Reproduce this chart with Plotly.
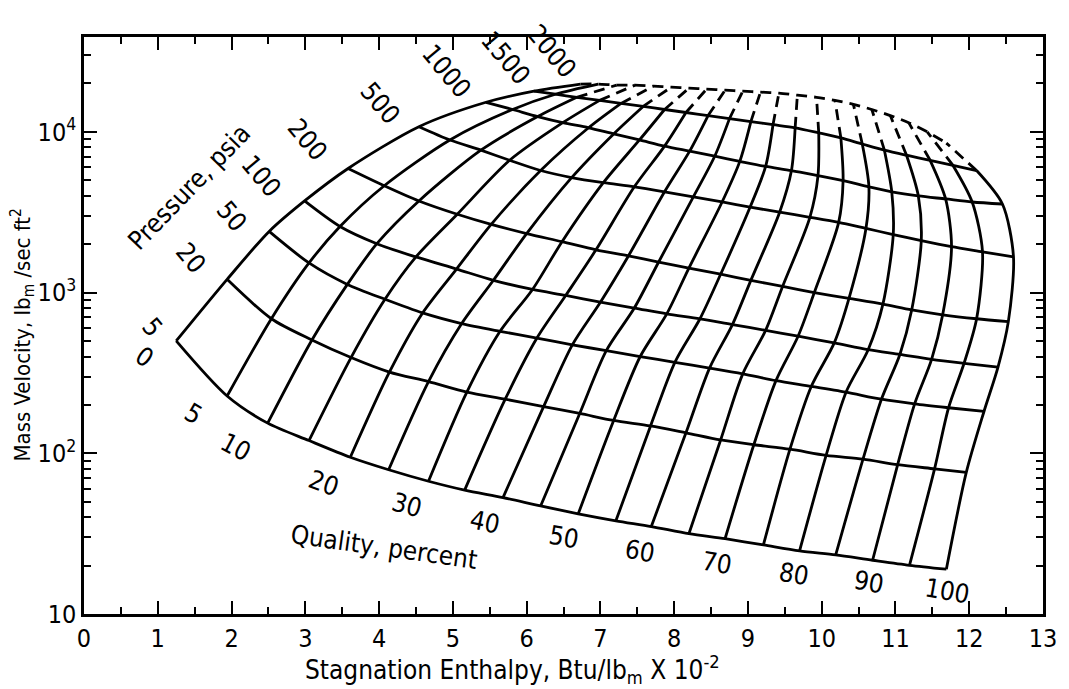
import plotly.graph_objects as go

# ---------------- data ----------------
pressures = [5, 20, 50, 100, 200, 500, 1000, 1500, 2000]          # psia
qualities = [0, 5, 10, 15, 20, 25, 30, 35, 40, 45, 50,
             55, 60, 65, 70, 75, 80, 85, 90, 95, 100]              # percent

# stagnation enthalpy (Btu/lbm x 1e-2) at each quality, per pressure line
h_p5 = [1.25, 1.94, 2.49, 3.05, 3.61, 4.13, 4.67, 5.16, 5.68, 6.19, 6.70,
        7.21, 7.69, 8.20, 8.69, 9.21, 9.70, 10.19, 10.69, 11.19, 11.69]
h_p20 = [1.94, 2.54, 3.09, 3.62, 4.14, 4.67, 5.19, 5.71, 6.23, 6.72, 7.18,
         7.68, 8.16, 8.63, 9.08, 9.57, 10.06, 10.56, 11.03, 11.53, 11.96]
h_p50 = [2.51, 3.05, 3.57, 4.08, 4.59, 5.12, 5.64, 6.14, 6.62, 7.08, 7.54,
         8.01, 8.48, 8.93, 9.38, 9.86, 10.33, 10.81, 11.26, 11.72, 12.20]
h_p100 = [2.99, 3.47, 3.97, 4.50, 5.05, 5.55, 6.08, 6.53, 7.00, 7.46, 7.90,
          8.35, 8.79, 9.24, 9.68, 10.17, 10.63, 11.06, 11.49, 11.93, 12.39]
h_p200 = [3.58, 4.07, 4.54, 5.06, 5.52, 6.00, 6.48, 6.94, 7.38, 7.79, 8.20,
          8.63, 9.04, 9.47, 9.90, 10.37, 10.83, 11.22, 11.64, 12.10, 12.53]
h_p500 = [4.54, 4.96, 5.38, 5.77, 6.19, 6.61, 7.04, 7.46, 7.87, 8.26, 8.65,
          9.03, 9.43, 9.84, 10.23, 10.60, 10.97, 11.35, 11.76, 12.18, 12.60]
h_p1000 = [5.45, 5.81, 6.15, 6.49, 6.84, 7.18, 7.53, 7.87, 8.21, 8.55, 8.89,
           9.24, 9.59, 9.95, 10.29, 10.64, 10.95, 11.31, 11.68, 12.04, 12.45]
h_p1500 = [6.10, 6.39, 6.68, 6.99, 7.28, 7.58, 7.87, 8.16, 8.46, 8.75, 9.04,
           9.34, 9.64, 9.96, 10.26, 10.55, 10.85, 11.15, 11.47, 11.78, 12.10]
h_p2000 = [6.73, 6.97, 7.22, 7.47, 7.72, 7.96, 8.20, 8.44, 8.69, 8.93, 9.17,
           9.42, 9.67, 9.93, 10.18, 10.43, 10.68, 10.93, 11.18, 11.43, 11.69]

# mass velocity (lbm/sec ft^2) at each quality, per pressure line
G_p5 = [500, 227, 154, 120, 94.5, 79, 67, 59, 53, 47, 42,
        38, 35, 31.6, 29.4, 26.9, 24.7, 23.3, 21.6, 20.1, 19.0]
G_p20 = [1208, 687, 507, 394, 320, 279, 240, 217, 195, 177, 160,
         148, 134, 121, 113, 106, 97, 92, 85, 80, 76]
G_p50 = [2400, 1528, 1124, 908, 747, 641, 574, 521, 473, 435, 400,
         368, 339, 312, 283, 261, 240, 217, 203, 192, 182]
G_p100 = [3715, 2576, 2013, 1666, 1400, 1192, 1045, 959, 871, 801, 737,
          687, 632, 582, 535, 486, 441, 412, 384, 363, 344]
G_p200 = [5916, 4620, 3715, 3071, 2655, 2328, 2072, 1844, 1690, 1549, 1419,
          1300, 1191, 1091, 1000, 920, 847, 779, 727, 687, 659]
G_p500 = [10760, 8900, 7690, 6650, 5745, 5190, 4826, 4550, 4236, 3938, 3660,
          3403, 3162, 2940, 2733, 2506, 2296, 2104, 1928, 1792, 1666]
G_p1000 = [15270, 13770, 12440, 11400, 10600, 9710, 8900, 8150, 7580, 7050, 6550,
           6090, 5745, 5340, 4966, 4550, 4236, 3993, 3822, 3660, 3556]
G_p1500 = [17910, 17140, 16400, 15700, 15030, 14390, 13770, 13190, 12620, 12080, 11570,
           11070, 10600, 9860, 9170, 8400, 7690, 7150, 6650, 6180, 5745]
G_p2000 = [19820, 19820, 19530, 19530, 19260, 18970, 18700, 18450, 18160, 17910, 17660,
           17420, 16900, 16400, 15700, 14830, 13770, 12620, 11400, 10000, 8510]

x_ticks = [0, 1, 2, 3, 4, 5, 6, 7, 8, 9, 10, 11, 12, 13]
y_ticks = [10, 100, 1000, 10000]
y_tick_text = ["10", "10<sup>2</sup>", "10<sup>3</sup>", "10<sup>4</sup>"]

H = [h_p5, h_p20, h_p50, h_p100, h_p200, h_p500, h_p1000, h_p1500, h_p2000]
G = [G_p5, G_p20, G_p50, G_p100, G_p200, G_p500, G_p1000, G_p1500, G_p2000]

# ---------------- figure ----------------
FONT = "Liberation Sans Narrow, DejaVu Sans Condensed, DejaVu Sans, sans-serif"
LW = 2.8
solid = dict(color="black", width=LW, shape="spline", smoothing=0.8)
dashed = dict(color="black", width=LW, shape="spline", smoothing=0.8, dash="11px,7px")

fig = go.Figure()

# constant-pressure lines
for k, p in enumerate(pressures):
    fig.add_trace(go.Scatter(x=H[k], y=G[k], mode="lines",
                             line=dashed if p == 2000 else solid,
                             hoverinfo="skip", showlegend=False))

# constant-quality lines (segment between 1500 and 2000 psia dashed for q >= 10)
for i, q in enumerate(qualities):
    xs = [H[k][i] for k in range(len(pressures))]
    ys = [G[k][i] for k in range(len(pressures))]
    if q < 10:
        fig.add_trace(go.Scatter(x=xs, y=ys, mode="lines", line=solid,
                                 hoverinfo="skip", showlegend=False))
    else:
        fig.add_trace(go.Scatter(x=xs[:-1], y=ys[:-1], mode="lines", line=solid,
                                 hoverinfo="skip", showlegend=False))
        fig.add_trace(go.Scatter(x=xs[-2:], y=ys[-2:], mode="lines", line=dashed,
                                 hoverinfo="skip", showlegend=False))

# plot area in pixels (for placing text labels)
L, R, T, B = 84, 1052, 37, 614


def paper(px, py):
    return (px - L) / (R - L), (B - py) / (B - T)


annots = []


def label(text, px, py, angle=0, size=22):
    x, y = paper(px, py)
    annots.append(dict(text=text, x=x, y=y, xref="paper", yref="paper",
                       showarrow=False, textangle=angle,
                       font=dict(family=FONT, size=size, color="black"),
                       xanchor="center", yanchor="middle"))


# pressure labels
p_label_pos = [(153, 327), (192, 258), (233, 216), (263, 176), (310, 140),
               (383, 103), (450, 71), (510, 58), (556, 51)]
for p, (px, py) in zip(pressures, p_label_pos):
    label(str(p), px, py, angle=50, size=26)
label("Pressure, psia", 190, 187, angle=-46, size=26)

# quality labels
q_label_vals = [0, 5, 10, 20, 30, 40, 50, 60, 70, 80, 90, 100]
q_label_pos = [(145, 357), (195, 414), (237, 447), (326, 483), (410, 505), (489, 522),
               (568, 537), (645, 551), (723, 563), (801, 574), (876, 582), (956, 591)]
q_angles = [35, 30, 28, 20, 15, 12, 10, 10, 10, 10, 10, 10]
for qv, (px, py), ang in zip(q_label_vals, q_label_pos, q_angles):
    label(str(qv), px, py, angle=ang, size=26)
label("Quality, percent", 387, 547, angle=8, size=26)

# axis titles
label("Stagnation Enthalpy, Btu/lb<sub>m</sub> X 10<sup>-2</sup>", 517, 669, size=26)
label("Mass Velocity, lb<sub>m</sub> /sec ft<sup>2</sup>", 22, 335, angle=-90, size=22)

x_minor = [v + 0.5 for v in x_ticks[:-1]]
y_minor = [m * d for d in (10, 100, 1000, 10000) for m in range(2, 10) if m * d < 39000]

fig.update_layout(
    width=1069, height=689,
    margin=dict(l=L, r=1069 - R, t=T, b=689 - B),
    paper_bgcolor="white", plot_bgcolor="white",
    showlegend=False,
    font=dict(family=FONT, color="black", size=22),
    annotations=annots,
    xaxis=dict(range=[0, 13], tickmode="array", tickvals=x_ticks,
               ticks="inside", ticklen=13, tickwidth=2, tickcolor="black",
               showline=True, linewidth=2.5, linecolor="black", mirror="ticks",
               showgrid=False, zeroline=False,
               tickfont=dict(family=FONT, size=25),
               minor=dict(tickvals=x_minor, ticks="inside", ticklen=7,
                          tickwidth=2, tickcolor="black", showgrid=False)),
    yaxis=dict(type="log", range=[1, 4.59], tickmode="array", tickvals=y_ticks,
               ticktext=y_tick_text,
               ticks="inside", ticklen=13, tickwidth=2, tickcolor="black",
               showline=True, linewidth=2.5, linecolor="black", mirror="ticks",
               showgrid=False, zeroline=False,
               tickfont=dict(family=FONT, size=25),
               minor=dict(tickvals=y_minor, ticks="inside", ticklen=7,
                          tickwidth=2, tickcolor="black", showgrid=False)),
)

fig.write_html("out.html")
